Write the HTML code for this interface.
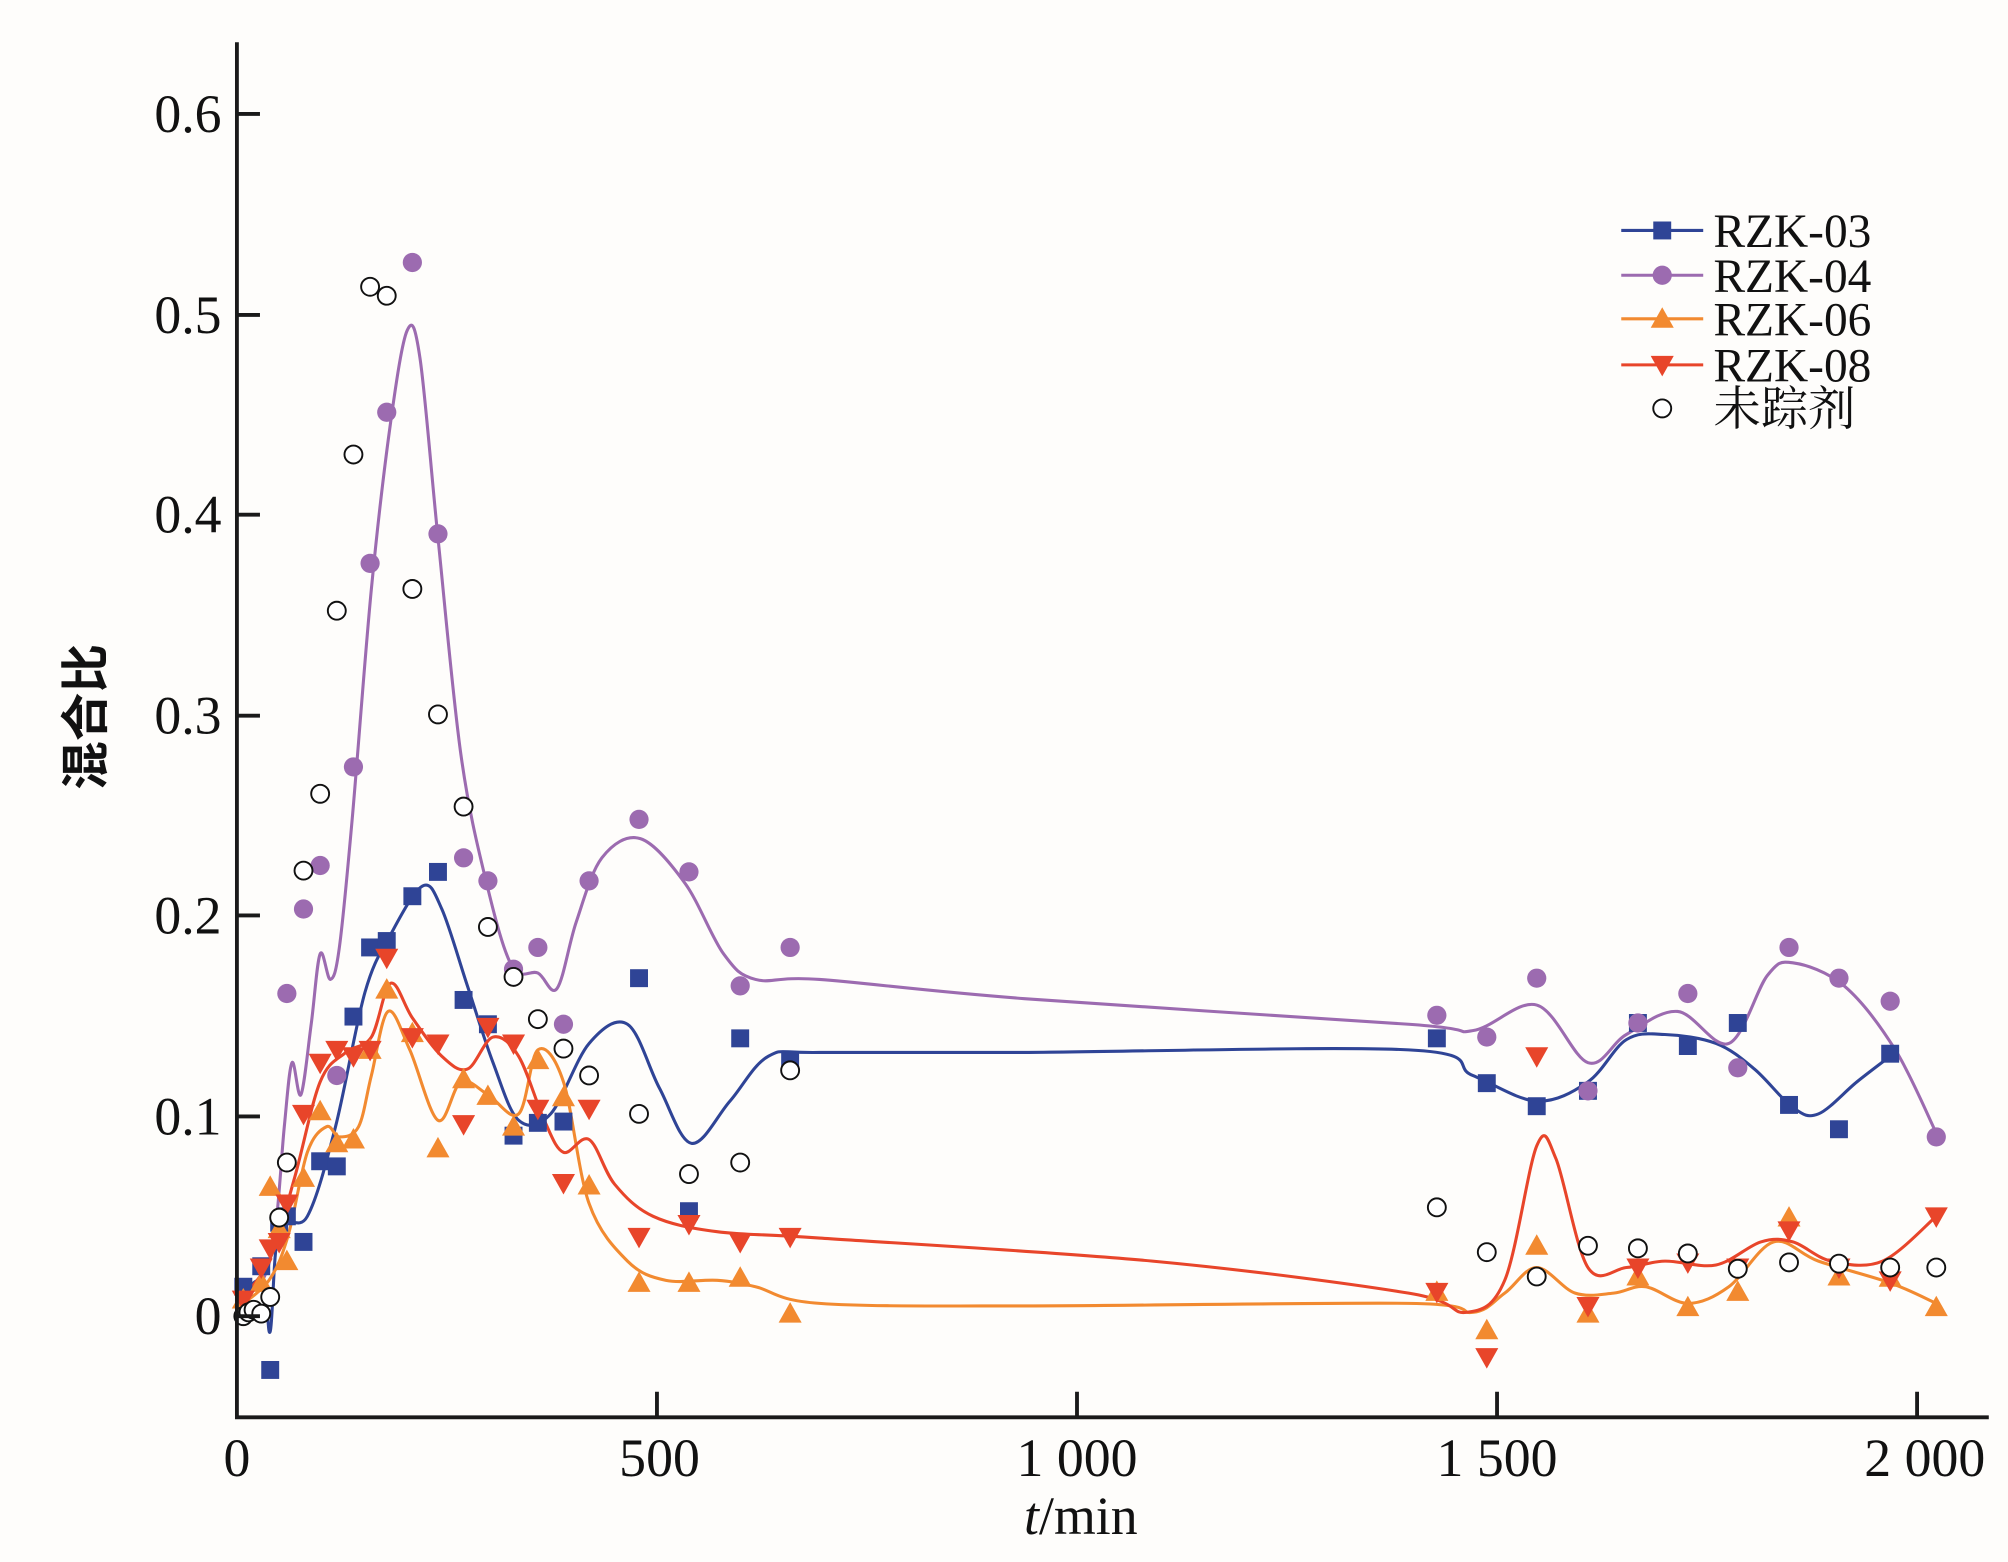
<!DOCTYPE html>
<html><head><meta charset="utf-8"><style>
html,body{margin:0;padding:0;background:#fefdfb;}
svg{display:block;}
text{font-family:"Liberation Serif","Noto Serif CJK SC",serif;fill:#111;}
</style></head><body>
<svg id="s" width="2008" height="1562" viewBox="0 0 1568 1220" preserveAspectRatio="none" xmlns="http://www.w3.org/2000/svg">
<rect width="1568" height="1220" fill="#fefdfb"/>
<g id="curves" fill="none" stroke-width="2.4"></g>
<g id="marks"></g>
<g stroke="#1a1a1a" stroke-width="3" fill="none">
<path d="M185,33 V1107 H1553"/>
<path d="M185,89 h18 M185,246 h18 M185,402 h18 M185,559 h18 M185,715 h18 M185,872 h18 M185,1028 h18"/>
<path d="M513,1107 v-20 M841,1107 v-20 M1169,1107 v-20 M1497,1107 v-20"/>
</g>
<g font-size="42" text-anchor="end">
<text x="173" y="103">0.6</text><text x="173" y="260">0.5</text><text x="173" y="416">0.4</text>
<text x="173" y="573">0.3</text><text x="173" y="729">0.2</text><text x="173" y="886">0.1</text>
<text x="173" y="1042">0</text>
</g>
<g font-size="42" text-anchor="middle">
<text x="185" y="1153">0</text><text x="515" y="1153">500</text><text x="841" y="1153">1 000</text>
<text x="1169" y="1153">1 500</text><text x="1503" y="1153">2 000</text>
<text x="844" y="1198"><tspan font-style="italic">t</tspan>/min</text>
</g>
<text x="0" y="0" font-size="38" text-anchor="middle" font-weight="bold" transform="translate(80,560) rotate(-90)" style="font-family:'Noto Sans CJK SC',sans-serif">混合比</text>
<g id="legend" font-size="37"></g>
</svg>
<script>
var C={b:"#2f4496",p:"#9c6bb0",o:"#f28a30",r:"#e8452a"};
function cr(p){var d="M"+p[0][0]+","+p[0][1];for(var i=0;i<p.length-1;i++){var p0=p[i-1]||p[i],p1=p[i],p2=p[i+1],p3=p[i+2]||p2;
d+=" C"+(p1[0]+(p2[0]-p0[0])/6)+","+(p1[1]+(p2[1]-p0[1])/6)+" "+(p2[0]-(p3[0]-p1[0])/6)+","+(p2[1]-(p3[1]-p1[1])/6)+" "+p2[0]+","+p2[1];}return d;}
function P(s){return s.trim().split(/\s+/).map(function(t){return t.split(",").map(Number);});}
var NS="http://www.w3.org/2000/svg";
function el(tag,at,par){var e=document.createElementNS(NS,tag);for(var k in at)e.setAttribute(k,at[k]);document.getElementById(par).appendChild(e);return e;}
var curves=[
["b","185,1015 205,1000 211,1040 218,960 240,950 262,880 285,775 305,730 330,692 345,710 365,770 385,830 405,875 430,870 460,815 490,800 515,850 540,893 570,860 600,825 640,822 800,822 1100,820 1150,840 1200,860 1240,845 1270,812 1300,808 1340,815 1370,835 1400,865 1420,870 1450,845 1476,825"],
["p","185,1015 205,1000 215,960 222,880 228,830 235,855 243,800 250,745 258,765 265,740 275,640 290,460 305,330 318,258 328,280 342,420 360,590 380,690 400,755 420,760 435,772 450,720 470,670 500,655 535,690 565,745 590,765 640,765 800,780 1100,800 1150,805 1200,785 1240,830 1270,808 1310,790 1350,815 1380,762 1400,752 1440,770 1480,820 1512,885"],
["o","185,1022 210,1000 225,965 240,900 255,880 265,888 280,880 290,840 303,790 320,820 342,875 360,845 381,855 405,870 420,820 440,845 460,940 490,985 520,1000 560,1000 590,1005 640,1018 800,1020 1100,1018 1150,1025 1175,1010 1200,990 1230,1010 1260,1010 1285,1005 1318,1018 1350,1005 1385,970 1420,985 1476,1002 1512,1018"],
["r","185,1018 210,985 230,920 250,845 270,822 290,810 305,768 322,795 345,825 365,835 385,810 405,825 425,875 440,900 460,890 480,925 510,950 560,962 640,967 900,985 1100,1010 1145,1025 1175,1000 1200,895 1215,905 1240,990 1270,990 1300,985 1340,988 1375,970 1400,970 1430,985 1470,985 1512,950"]];
curves.forEach(function(c){el("path",{d:cr(P(c[1])),stroke:C[c[0]]},"curves");});
function mk(type,x,y,par){var s=7;
if(type=="b")el("rect",{x:x-s,y:y-s,width:2*s,height:2*s,fill:C.b},par);
else if(type=="p")el("circle",{cx:x,cy:y,r:7.5,fill:C.p},par);
else if(type=="o")el("path",{d:"M"+x+","+(y-9)+" L"+(x+9)+","+(y+7)+" L"+(x-9)+","+(y+7)+"Z",fill:C.o},par);
else if(type=="r")el("path",{d:"M"+x+","+(y+9)+" L"+(x+9)+","+(y-7)+" L"+(x-9)+","+(y-7)+"Z",fill:C.r},par);
else el("circle",{cx:x,cy:y,r:7,fill:"#fff",stroke:"#111","stroke-width":1.5},par);}
var pts={
b:"190,1005 204,989 211,1070 218,955 224,950 237,970 250,907 263,911 276,794 289,740 302,735 322,700 342,681 362,781 381,800 401,887 420,877 440,876 499,764 538,946 578,811 617,828 1122,811 1161,846 1200,864 1240,852 1279,799 1318,817 1357,799 1397,863 1436,882 1476,823",
p:"224,776 237,710 250,676 263,840 276,599 289,440 302,322 322,205 342,417 362,670 381,688 401,757 420,740 440,800 460,688 499,640 538,681 578,770 617,740 1122,793 1161,810 1200,764 1240,852 1279,799 1318,776 1357,834 1397,740 1436,764 1476,782 1512,888",
o:"190,1015 204,1002 211,927 218,960 224,985 237,920 250,868 263,893 276,890 289,820 302,773 322,807 342,897 362,843 381,856 401,880 420,828 440,857 460,926 499,1002 538,1002 578,998 617,1026 1122,1009 1161,1039 1200,973 1240,1026 1279,997 1318,1021 1357,1009 1397,951 1436,997 1476,998 1512,1021",
r:"190,1015 204,990 211,975 218,970 224,940 237,870 250,830 263,820 276,825 289,820 302,748 322,810 342,815 362,878 381,802 401,815 420,866 440,924 460,866 499,966 538,956 578,970 617,966 1122,1009 1161,1060 1200,825 1240,1020 1279,990 1318,986 1357,990 1397,961 1436,990 1476,1000 1512,950",
w:"190,1028 194,1025 198,1023 204,1026 211,1013 218,951 224,908 237,680 250,620 263,477 276,355 289,224 302,231 322,460 342,558 362,630 381,724 401,763 420,796 440,819 460,840 499,870 538,917 578,908 617,836 1122,943 1161,978 1200,997 1240,973 1279,975 1318,979 1357,991 1397,986 1436,987 1476,990 1512,990"};
["b","p","o","r","w"].forEach(function(k){P(pts[k]).forEach(function(q){mk(k,q[0],q[1],"marks");});});
var L=[["b","RZK-03",180],["p","RZK-04",215],["o","RZK-06",249],["r","RZK-08",285],["w","未踪剂",319]];
L.forEach(function(l){if(l[0]!="w")el("path",{d:"M1266,"+l[2]+" H1330",stroke:C[l[0]],"stroke-width":2.4},"legend");
mk(l[0],1298,l[2],"legend");var t=el("text",{x:1338,y:l[2]+13},"legend");t.textContent=l[1];});
</script>
</body></html>
